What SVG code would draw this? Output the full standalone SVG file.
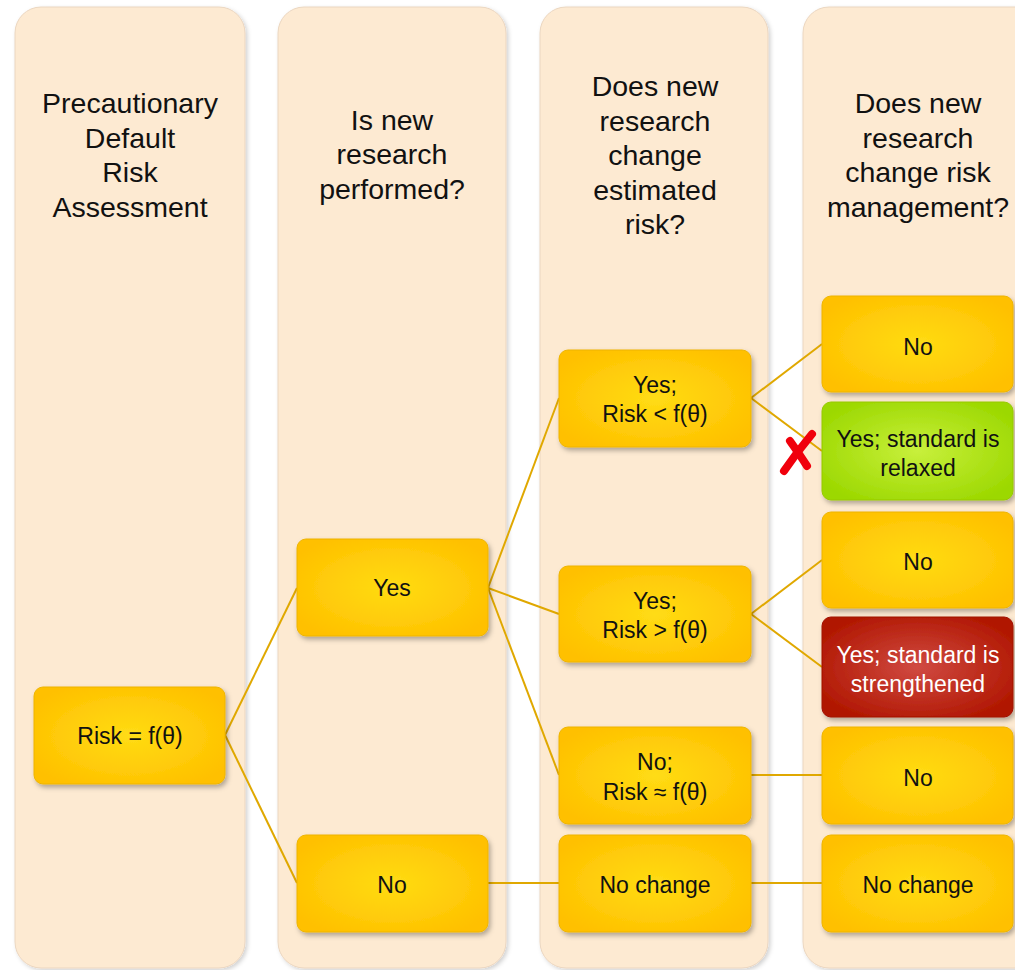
<svg xmlns="http://www.w3.org/2000/svg" width="1015" height="970" viewBox="0 0 1015 970">
<defs>
<radialGradient id="gy" cx="50%" cy="50%" r="60%">
<stop offset="0" stop-color="#FFDC14"/>
<stop offset="1" stop-color="#FFC000"/>
</radialGradient>
<radialGradient id="gg" cx="50%" cy="50%" r="60%">
<stop offset="0" stop-color="#C8F03C"/>
<stop offset="1" stop-color="#9CD800"/>
</radialGradient>
<radialGradient id="gr" cx="50%" cy="50%" r="60%">
<stop offset="0" stop-color="#D04A42"/>
<stop offset="1" stop-color="#B01600"/>
</radialGradient>
<filter id="sh" x="-20%" y="-20%" width="140%" height="140%">
<feDropShadow dx="2" dy="3" stdDeviation="2.5" flood-color="#000" flood-opacity="0.3"/>
</filter>
<filter id="psh" x="-10%" y="-5%" width="120%" height="110%">
<feDropShadow dx="2" dy="2" stdDeviation="2" flood-color="#000" flood-opacity="0.18"/>
</filter>
</defs>
<style>
.panel{fill:#FDEAD2;stroke:#EBD6C0;stroke-width:1;filter:url(#psh)}
.node{fill:url(#gy);stroke:#EEB400;stroke-width:1;filter:url(#sh)}
.green{fill:url(#gg);stroke:#96C800;stroke-width:1;filter:url(#sh)}
.red{fill:url(#gr);stroke:#A01000;stroke-width:1;filter:url(#sh)}
.hd{font-family:"Liberation Sans",Arial,sans-serif;font-size:28.5px;fill:#111;text-anchor:middle}
.t{font-family:"Liberation Sans",Arial,sans-serif;font-size:23px;fill:#111;text-anchor:middle}
.tw{font-family:"Liberation Sans",Arial,sans-serif;font-size:23px;fill:#fff;text-anchor:middle}
.c{stroke:#E0A800;stroke-width:2;fill:none}
</style>
<rect width="1015" height="970" fill="#fff"/>
<g id="panels">
<rect class="panel" x="15" y="7" width="230" height="961" rx="26"/>
<rect class="panel" x="278" y="7" width="228" height="961" rx="26"/>
<rect class="panel" x="540" y="7" width="228" height="961" rx="26"/>
<rect class="panel" x="803" y="7" width="240" height="961" rx="26"/>
</g>
<g id="headers">
<text class="hd" x="130"><tspan x="130" y="113">Precautionary</tspan><tspan x="130" y="148">Default</tspan><tspan x="130" y="182">Risk</tspan><tspan x="130" y="217">Assessment</tspan></text>
<text class="hd" x="392"><tspan x="392" y="130">Is new</tspan><tspan x="392" y="164">research</tspan><tspan x="392" y="199">performed?</tspan></text>
<text class="hd" x="655"><tspan x="655" y="96">Does new</tspan><tspan x="655" y="131">research</tspan><tspan x="655" y="165">change</tspan><tspan x="655" y="200">estimated</tspan><tspan x="655" y="234">risk?</tspan></text>
<text class="hd" x="918"><tspan x="918" y="113">Does new</tspan><tspan x="918" y="148">research</tspan><tspan x="918" y="182">change risk</tspan><tspan x="918" y="217">management?</tspan></text>
</g>
<g id="connectors">
<line class="c" x1="225" y1="735" x2="297" y2="588"/>
<line class="c" x1="225" y1="735" x2="297" y2="883"/>
<line class="c" x1="488" y1="588" x2="559" y2="398"/>
<line class="c" x1="488" y1="588" x2="559" y2="614"/>
<line class="c" x1="488" y1="588" x2="559" y2="775"/>
<line class="c" x1="488" y1="883" x2="559" y2="883"/>
<line class="c" x1="751" y1="398" x2="822" y2="344"/>
<line class="c" x1="751" y1="398" x2="822" y2="451"/>
<line class="c" x1="751" y1="614" x2="822" y2="560"/>
<line class="c" x1="751" y1="614" x2="822" y2="667"/>
<line class="c" x1="751" y1="775" x2="822" y2="775"/>
<line class="c" x1="751" y1="883" x2="822" y2="883"/>
</g>
<g id="n-risk">
<rect class="node" x="34" y="687" width="191" height="97" rx="9"/>
<text class="t" x="130" y="744">Risk = f(θ)</text>
</g>
<g id="n-yes">
<rect class="node" x="297" y="539" width="191" height="97" rx="9"/>
<text class="t" x="392" y="596">Yes</text>
</g>
<g id="n-no">
<rect class="node" x="297" y="835" width="191" height="97" rx="9"/>
<text class="t" x="392" y="893">No</text>
</g>
<g id="n-less">
<rect class="node" x="559" y="350" width="192" height="97" rx="9"/>
<text class="t"><tspan x="655" y="393">Yes;</tspan><tspan x="655" y="422">Risk &lt; f(θ)</tspan></text>
</g>
<g id="n-more">
<rect class="node" x="559" y="566" width="192" height="96" rx="9"/>
<text class="t"><tspan x="655" y="609">Yes;</tspan><tspan x="655" y="638">Risk &gt; f(θ)</tspan></text>
</g>
<g id="n-approx">
<rect class="node" x="559" y="727" width="192" height="97" rx="9"/>
<text class="t"><tspan x="655" y="770">No;</tspan><tspan x="655" y="800">Risk ≈ f(θ)</tspan></text>
</g>
<g id="n-nochange3">
<rect class="node" x="559" y="835" width="192" height="97" rx="9"/>
<text class="t" x="655" y="893">No change</text>
</g>
<g id="n-no4a">
<rect class="node" x="822" y="296" width="191" height="96" rx="9"/>
<text class="t" x="918" y="355">No</text>
</g>
<g id="n-relaxed">
<rect class="green" x="822" y="402" width="191" height="98" rx="9"/>
<text class="t"><tspan x="918" y="447">Yes; standard is</tspan><tspan x="918" y="476">relaxed</tspan></text>
</g>
<g id="n-no4b">
<rect class="node" x="822" y="512" width="191" height="96" rx="9"/>
<text class="t" x="918" y="570">No</text>
</g>
<g id="n-strengthened">
<rect class="red" x="822" y="617" width="191" height="100" rx="9"/>
<text class="tw"><tspan x="918" y="663">Yes; standard is</tspan><tspan x="918" y="692">strengthened</tspan></text>
</g>
<g id="n-no4c">
<rect class="node" x="822" y="727" width="191" height="97" rx="9"/>
<text class="t" x="918" y="786">No</text>
</g>
<g id="n-nochange4">
<rect class="node" x="822" y="835" width="191" height="97" rx="9"/>
<text class="t" x="918" y="893">No change</text>
</g>
<g id="xmark" stroke="#F0000C" stroke-width="8" stroke-linecap="round" fill="none">
<path d="M812 434 Q797 452 784 471"/>
<path d="M790 441 Q800 455 807 466"/>
</g>
</svg>
